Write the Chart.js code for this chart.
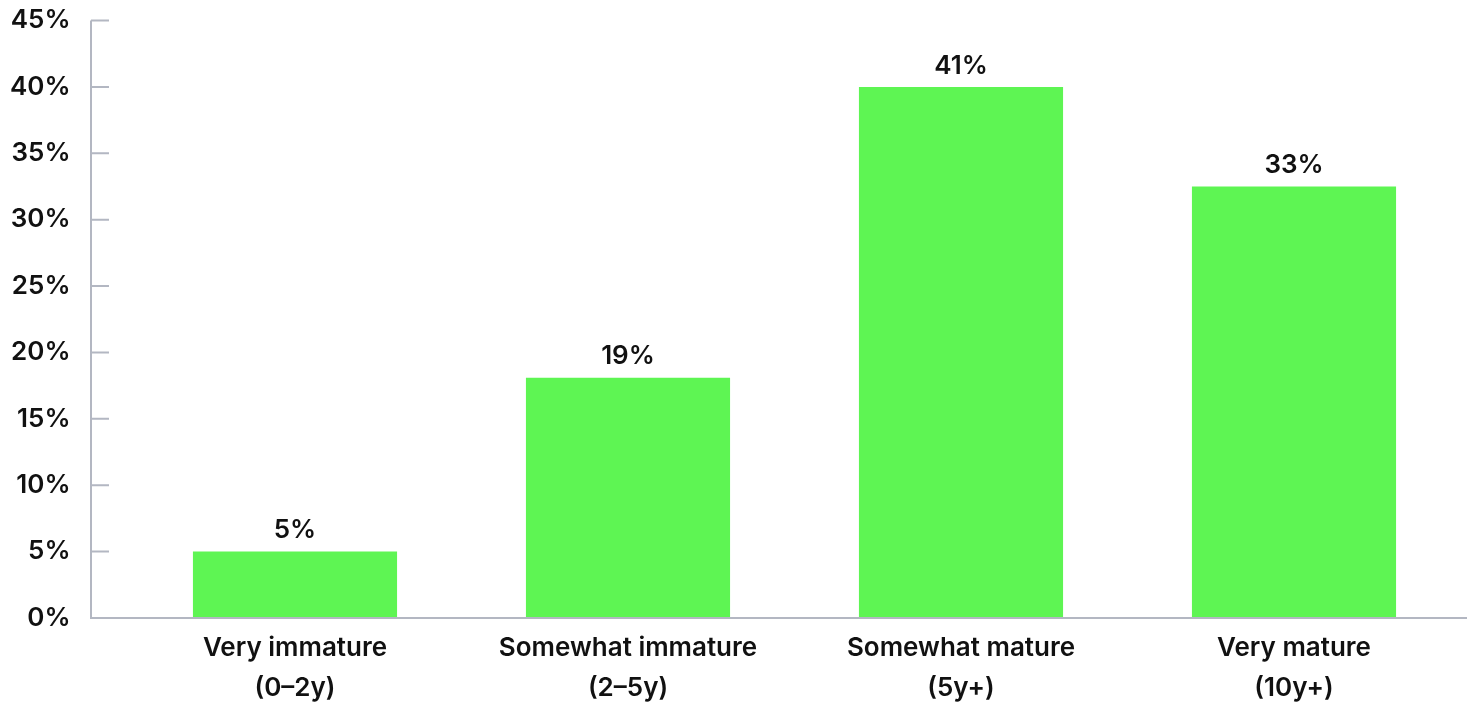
<!DOCTYPE html>
<html>
<head>
<meta charset="utf-8">
<script src="https://cdn.jsdelivr.net/npm/chart.js@4/dist/chart.umd.min.js"></script>
<style>
  html, body { margin: 0; padding: 0; background: #fff; }
  #wrap { width: 1467px; height: 702px; }
</style>
</head>
<body>
<div id="wrap"><canvas id="maturity-chart"></canvas></div>
<script>
const categories = [
  ["Very immature", "(0\u20132y)"],
  ["Somewhat immature", "(2\u20135y)"],
  ["Somewhat mature", "(5y+)"],
  ["Very mature", "(10y+)"]
];
const shares = [5, 18.1, 40, 32.5];
const shareLabels = ["5%", "19%", "41%", "33%"];
const yTicks = [0, 5, 10, 15, 20, 25, 30, 35, 40, 45];

const axisColor = "#b3b7c2";
const textColor = "#111111";
const fontFamily = "Inter, 'Noto Sans', sans-serif";

// axis lines + short inner tick marks, drawn left of the plot area
const axisPlugin = {
  id: "axisLines",
  afterDraw(chart) {
    const ctx = chart.ctx;
    const area = chart.chartArea;
    const y = chart.scales.y;
    const axisX = area.left - 37.5;
    ctx.save();
    ctx.strokeStyle = axisColor;
    ctx.lineWidth = 2;
    ctx.beginPath();
    ctx.moveTo(axisX, y.getPixelForValue(45));
    ctx.lineTo(axisX, area.bottom);
    ctx.lineTo(chart.width, area.bottom);
    yTicks.forEach(v => {
      if (v === 0) return;
      const py = y.getPixelForValue(v);
      ctx.moveTo(axisX, py);
      ctx.lineTo(axisX + 18, py);
    });
    ctx.stroke();
    ctx.restore();
  }
};

// value labels above each bar
const labelPlugin = {
  id: "barLabels",
  afterDatasetsDraw(chart) {
    const ctx = chart.ctx;
    const meta = chart.getDatasetMeta(0);
    ctx.save();
    ctx.fillStyle = textColor;
    ctx.font = "600 26px " + fontFamily;
    ctx.textAlign = "center";
    ctx.textBaseline = "middle";
    meta.data.forEach((bar, i) => {
      ctx.fillText(shareLabels[i], bar.x, bar.y - 21);
    });
    ctx.restore();
  }
};

new Chart(document.getElementById("maturity-chart"), {
  type: "bar",
  data: {
    labels: categories,
    datasets: [{
      data: shares,
      backgroundColor: "#5ef553",
      borderWidth: 0,
      categoryPercentage: 1,
      barPercentage: 0.613
    }]
  },
  options: {
    responsive: true,
    maintainAspectRatio: false,
    animation: false,
    layout: { padding: { top: 20.5, right: 6.5, left: 0, bottom: 0 } },
    plugins: {
      legend: { display: false },
      tooltip: { enabled: false }
    },
    scales: {
      y: {
        min: 0,
        max: 45,
        afterBuildTicks(scale) {
          scale.ticks = yTicks.map(v => ({ value: v }));
        },
        afterFit(scale) { scale.width = 128.5; },
        grid: { display: false, drawTicks: true, tickLength: 58 },
        border: { display: false },
        ticks: {
          padding: 0,
          color: textColor,
          font: { family: fontFamily, size: 26, weight: "600" },
          callback: v => v + "%"
        }
      },
      x: {
        afterFit(scale) { scale.height = 84; },
        grid: { display: false, drawTicks: false },
        border: { display: false },
        ticks: {
          padding: 10,
          color: textColor,
          maxRotation: 0,
          font: { family: fontFamily, size: 26, weight: "600", lineHeight: 1.54 }
        }
      }
    }
  },
  plugins: [axisPlugin, labelPlugin]
});
</script>
</body>
</html>
